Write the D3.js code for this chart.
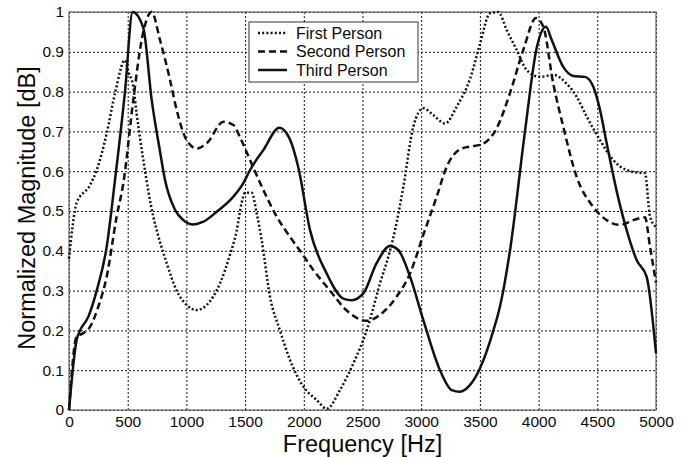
<!DOCTYPE html>
<html>
<head>
<meta charset="utf-8">
<script src="https://cdn.jsdelivr.net/npm/d3@7"></script>
<style>
    body { margin: 0; background: #fff; }
    text { font-family: "Liberation Sans", Arial, sans-serif; fill: #0a0a0a; }
</style>
</head>
<body>
<svg id="chart" width="687" height="457"></svg>
<script>
// values
var xTicks = [0, 500, 1000, 1500, 2000, 2500, 3000, 3500, 4000, 4500, 5000];
var yTicks = [0, 0.1, 0.2, 0.3, 0.4, 0.5, 0.6, 0.7, 0.8, 0.9, 1];
var seriesNames = ["First Person", "Second Person", "Third Person"];

var firstFreq = [0, 65, 179, 236, 321, 392, 477, 505, 548, 576, 633, 718, 747, 832, 917, 1002, 1088, 1173, 1286, 1371, 1428,
    1470, 1500, 1556, 1599, 1641, 1712, 1797, 1882, 1996, 2110, 2195, 2308, 2422, 2536, 2649, 2734, 2777, 2848, 2933, 3018,
    3103, 3203, 3302, 3416, 3501, 3586, 3657, 3728, 3813, 3899, 4012, 4125, 4239, 4324, 4410, 4523, 4636, 4750, 4864, 4906,
    4949, 5000];
var firstMag = [0.38, 0.52, 0.565, 0.603, 0.695, 0.796, 0.879, 0.85, 0.812, 0.745, 0.628, 0.486, 0.452, 0.369, 0.30, 0.264,
    0.251, 0.264, 0.318, 0.39, 0.45, 0.52, 0.546, 0.546, 0.494, 0.427, 0.285, 0.20, 0.126, 0.059, 0.025, 0.003, 0.05, 0.117,
    0.20, 0.318, 0.40, 0.452, 0.561, 0.712, 0.758, 0.741, 0.72, 0.762, 0.832, 0.92, 0.997, 1.0, 0.955, 0.905, 0.854, 0.837,
    0.842, 0.82, 0.787, 0.737, 0.678, 0.628, 0.603, 0.596, 0.595, 0.486, 0.46];

var secondFreq = [0, 65, 122, 179, 250, 321, 406, 463, 548, 619, 704, 775, 860, 917, 1002, 1088, 1173, 1315, 1400, 1457,
    1542, 1655, 1769, 1882, 1968, 2081, 2223, 2365, 2536, 2649, 2791, 2905, 3018, 3132, 3217, 3330, 3416, 3501, 3643, 3756,
    3870, 3978, 4040, 4125, 4210, 4324, 4466, 4580, 4693, 4807, 4906, 4949, 5000];
var secondMag = [0, 0.184, 0.193, 0.209, 0.26, 0.335, 0.486, 0.57, 0.78, 0.93, 1.0, 0.93, 0.83, 0.754, 0.678, 0.657, 0.67,
    0.724, 0.716, 0.685, 0.628, 0.553, 0.486, 0.435, 0.40, 0.352, 0.30, 0.25, 0.224, 0.239, 0.285, 0.343, 0.44, 0.536, 0.611,
    0.655, 0.662, 0.666, 0.708, 0.796, 0.905, 0.985, 0.963, 0.82, 0.712, 0.586, 0.51, 0.477, 0.465, 0.477, 0.484, 0.41, 0.32];

var thirdFreq = [0, 65, 94, 164, 236, 321, 392, 477, 542, 633, 704, 775, 818, 903, 974, 1059, 1144, 1258, 1400, 1485, 1542,
    1655, 1792, 1877, 1953, 2053, 2195, 2337, 2408, 2507, 2620, 2734, 2805, 2905, 3018, 3160, 3260, 3330, 3416, 3501, 3615,
    3671, 3756, 3884, 3984, 4063, 4111, 4210, 4296, 4395, 4466, 4523, 4580, 4665, 4750, 4835, 4920, 5000];
var thirdMag = [0, 0.176, 0.20, 0.234, 0.30, 0.41, 0.578, 0.80, 1.0, 0.96, 0.78, 0.65, 0.578, 0.503, 0.477, 0.466, 0.473,
    0.498, 0.536, 0.57, 0.603, 0.653, 0.709, 0.683, 0.61, 0.452, 0.343, 0.28, 0.276, 0.293, 0.369, 0.412, 0.402, 0.335,
    0.226, 0.10, 0.05, 0.046, 0.063, 0.105, 0.20, 0.26, 0.40, 0.70, 0.91, 0.963, 0.93, 0.862, 0.839, 0.837, 0.812, 0.754,
    0.67, 0.55, 0.452, 0.377, 0.335, 0.142];

var margin = { left: 69, right: 31, top: 12, bottom: 47 };
var width = 687 - margin.left - margin.right;
var height = 457 - margin.top - margin.bottom;

function zipSeries(freqs, mags) {
    var out = [];
    for (var i = 0; i < freqs.length; i++) {
        out.push({ f: freqs[i], v: mags[i] });
    }
    return out;
}

var allSeries = [
    { name: seriesNames[0], data: zipSeries(firstFreq, firstMag), dash: "2,2.2" },
    { name: seriesNames[1], data: zipSeries(secondFreq, secondMag), dash: "7,4" },
    { name: seriesNames[2], data: zipSeries(thirdFreq, thirdMag), dash: null }
];

drawChart();

function drawChart() {
    var svg = d3.select('#chart');

    var x = d3.scaleLinear().domain([0, 5000]).range([0, width]);
    var y = d3.scaleLinear().domain([0, 1]).range([height, 0]);

    var g = svg.append('g')
        .attr('transform', 'translate(' + margin.left + ', ' + margin.top + ')');

    // axes double as the dotted grid
    var xAxis = d3.axisBottom(x).tickValues(xTicks).tickSize(-height).tickPadding(6)
        .tickFormat(d3.format('d'));
    var yAxis = d3.axisLeft(y).tickValues(yTicks).tickSize(-width).tickPadding(5)
        .tickFormat(function (d) { return d === 0 || d === 1 ? String(d) : d3.format('.1f')(d); });

    var gx = g.append('g').attr('transform', 'translate(0, ' + height + ')').call(xAxis);
    var gy = g.append('g').call(yAxis);

    [gx, gy].forEach(function (a) {
        a.select('.domain').remove();
        a.selectAll('.tick line')
            .attr('stroke', '#111')
            .attr('stroke-width', 1)
            .attr('stroke-dasharray', '2,2');
        a.selectAll('.tick text')
            .style('font-family', '"Liberation Sans", Arial, sans-serif')
            .style('font-size', '15.5px')
            .attr('fill', '#0a0a0a');
    });

    g.append('rect')
        .attr('x', 0).attr('y', 0)
        .attr('width', width).attr('height', height)
        .attr('fill', 'none')
        .attr('stroke', '#666')
        .attr('stroke-width', 1.2);

    var line = d3.line()
        .curve(d3.curveMonotoneX)
        .x(function (d) { return x(d.f); })
        .y(function (d) { return y(d.v); });

    g.selectAll('.curve')
        .data(allSeries)
        .enter()
        .append('path')
        .attr('class', 'curve')
        .attr('d', function (d) { return line(d.data); })
        .attr('fill', 'none')
        .attr('stroke', '#111')
        .attr('stroke-width', 2.5)
        .attr('stroke-linejoin', 'round')
        .attr('stroke-dasharray', function (d) { return d.dash; });

    // legend box
    var legend = svg.append('g').attr('transform', 'translate(' + 249 + ', ' + 22 + ')');
    legend.append('rect')
        .attr('width', 169).attr('height', 60)
        .attr('fill', '#fff')
        .attr('stroke', '#333')
        .attr('stroke-width', 1);

    var rows = legend.selectAll('.legendRow')
        .data(allSeries)
        .enter()
        .append('g')
        .attr('class', 'legendRow')
        .attr('transform', function (d, i) { return 'translate(0, ' + (11 + i * 18.5) + ')'; });

    rows.append('line')
        .attr('x1', 9).attr('x2', 38)
        .attr('y1', 0).attr('y2', 0)
        .attr('stroke', '#111')
        .attr('stroke-width', 2.5)
        .attr('stroke-dasharray', function (d) { return d.dash; });

    rows.append('text')
        .attr('x', 47)
        .attr('y', 5.5)
        .style('font-size', '16px')
        .text(function (d) { return d.name; });

    // axis titles
    svg.append('text')
        .attr('x', margin.left + width / 2)
        .attr('y', 452)
        .attr('text-anchor', 'middle')
        .style('font-size', '23.5px')
        .text('Frequency [Hz]');

    svg.append('text')
        .attr('transform', 'translate(' + 35 + ', ' + 208 + ') rotate(-90)')
        .attr('text-anchor', 'middle')
        .style('font-size', '23.5px')
        .text('Normalized Magnitude [dB]');
}
</script>
</body>
</html>
